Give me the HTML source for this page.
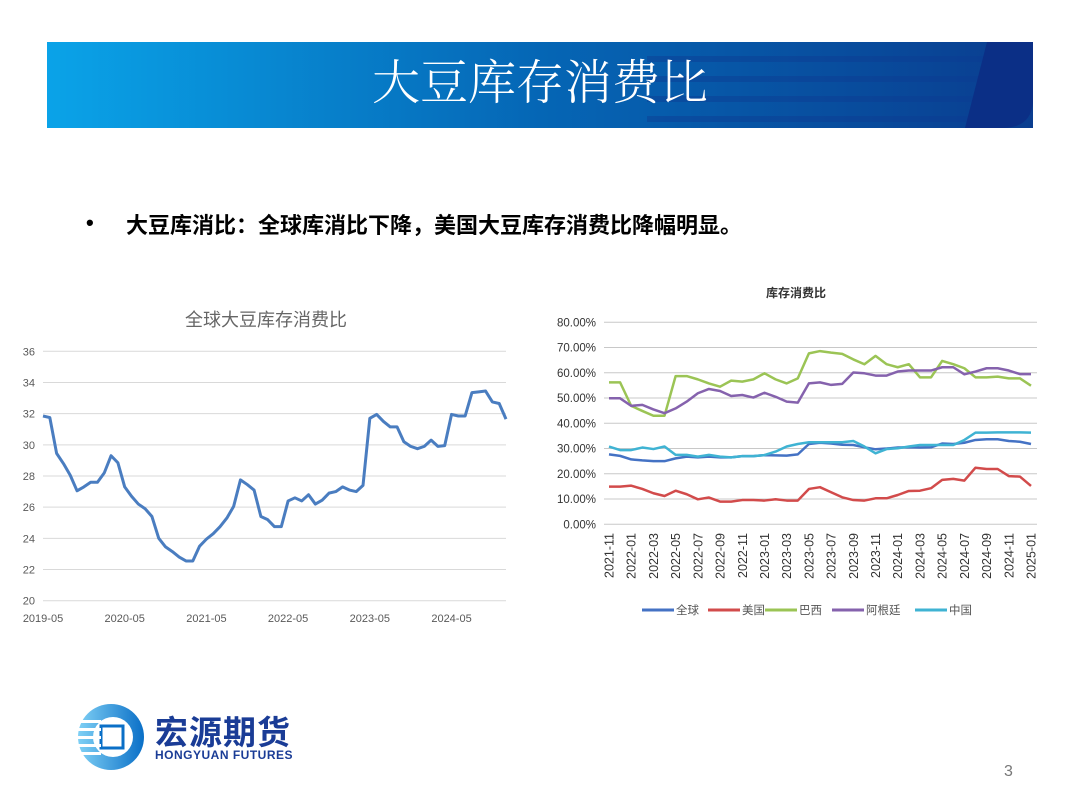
<!DOCTYPE html>
<html><head><meta charset="utf-8"><style>
body{margin:0;width:1080px;height:810px;background:#fff;position:relative;overflow:hidden;font-family:"Liberation Sans","Noto Sans CJK SC",sans-serif}
.abs{position:absolute}
</style></head><body>
<div class="abs" style="left:47px;top:42px;width:986px;height:86px;">
<svg width="986" height="86">
<defs><linearGradient id="bg" x1="0" x2="1"><stop offset="0" stop-color="#0aa3e8"/><stop offset="0.5" stop-color="#0566b5"/><stop offset="1" stop-color="#0a3d8f"/></linearGradient></defs>
<rect width="986" height="86" fill="url(#bg)"/>
<g fill="#0d3c93" opacity="0.45"><rect x="600" y="14" width="380" height="6"/><rect x="600" y="34" width="380" height="6"/><rect x="600" y="54" width="380" height="6"/><rect x="600" y="74" width="380" height="6"/></g>
<path d="M940 0 L986 0 L986 60 Q984 86 955 86 L918 86 Z" fill="#0b2f86"/>
</svg>
<div class="abs" style="left:0;top:14px;width:986px;text-align:center;color:#fff;font-size:48px;font-family:'Liberation Serif','Noto Serif CJK SC',serif;font-weight:300;line-height:56px">大豆库存消费比</div>
</div>
<div class="abs" style="left:86px;top:210px;font-size:22px;font-weight:bold">•</div>
<div class="abs" style="left:126px;top:208px;font-size:22px;font-weight:bold;color:#000">大豆库消比：全球库消比下降，美国大豆库存消费比降幅明显。</div>

<svg class="abs" style="left:0;top:290px" width="530" height="340" id="c1"></svg>
<svg class="abs" style="left:530px;top:280px" width="540" height="345" id="c2"></svg>

<div class="abs" style="left:75px;top:702px;width:250px;height:72px">
<svg width="70" height="70" class="abs" style="left:0;top:0"><defs><linearGradient id="lg" x1="0" x2="1"><stop offset="0" stop-color="#7fd0f5"/><stop offset="1" stop-color="#0a6fc7"/></linearGradient></defs>
<circle cx="36" cy="35" r="33" fill="url(#lg)"/><circle cx="38" cy="35" r="20" fill="#fff"/><rect x="26" y="24" width="22" height="22" fill="#fff" stroke="#0a6fc7" stroke-width="3"/>
<g fill="#fff"><rect x="2" y="18" width="24" height="3"/><rect x="2" y="26" width="24" height="3"/><rect x="2" y="34" width="24" height="3"/><rect x="2" y="42" width="24" height="3"/><rect x="2" y="50" width="24" height="3"/></g></svg>
<div class="abs" style="left:80px;top:4px;font-size:33px;font-weight:bold;color:#1a3c96;letter-spacing:1px">宏源期货</div>
<div class="abs" style="left:80px;top:46px;font-size:12px;font-weight:bold;color:#1a3c96;letter-spacing:0.5px">HONGYUAN FUTURES</div>
</div>
<div class="abs" style="left:1004px;top:763px;font-size:16px;color:#777">3</div>

<script>
const NS='http://www.w3.org/2000/svg';
function mk(p,t,a,txt){const e=document.createElementNS(NS,t);for(const k in a)e.setAttribute(k,a[k]);if(txt!==undefined)e.textContent=txt;p.appendChild(e);return e;}
// ---- chart 1 data
const globalValues=[31.85,31.75,29.45,28.8,28.05,27.05,27.3,27.6,27.6,28.2,29.3,28.85,27.3,26.7,26.2,25.9,25.4,24.0,23.45,23.15,22.8,22.55,22.55,23.5,23.95,24.3,24.75,25.3,26.05,27.75,27.45,27.1,25.4,25.2,24.75,24.75,26.4,26.6,26.4,26.8,26.2,26.45,26.9,27.0,27.3,27.1,27.0,27.4,31.7,31.95,31.5,31.15,31.15,30.2,29.9,29.75,29.9,30.3,29.9,29.95,31.95,31.85,31.85,33.35,33.4,33.45,32.75,32.65,31.65];
const globalYTicks=[20,22,24,26,28,30,32,34,36];
const globalXLabels=['2019-05','2020-05','2021-05','2022-05','2023-05','2024-05'];
(function(){
const s=document.getElementById('c1');
const x0=43,x1=506,yT=61.3,yB=310.7;
const X=i=>x0+(x1-x0)*i/(globalValues.length-1);
const Y=v=>yB-(v-20)/16*(yB-yT);
const t=mk(s,'text',{x:266,y:36,'text-anchor':'middle','font-size':18,fill:'#666'},'全球大豆库存消费比');


globalYTicks.forEach(v=>{
const l=mk(s,'line',{x1:x0,x2:x1,y1:Y(v),y2:Y(v),stroke:'#d9d9d9','stroke-width':1});


const tx=mk(s,'text',{x:35,y:Y(v)+4,'text-anchor':'end','font-size':11,fill:'#595959'},v);


});
globalXLabels.forEach((lb,k)=>{
const tx=mk(s,'text',{x:X(k*12),y:332,'text-anchor':'middle','font-size':11,fill:'#595959'},lb);


});
const p=mk(s,'polyline',{points:globalValues.map((v,i)=>X(i)+','+Y(v)).join(' '),fill:'none',stroke:'#4a7dc0','stroke-width':3,'stroke-linejoin':'round'});


})();
// ---- chart 2 data
const months=['2021-11','2021-12','2022-01','2022-02','2022-03','2022-04','2022-05','2022-06','2022-07','2022-08','2022-09','2022-10','2022-11','2022-12','2023-01','2023-02','2023-03','2023-04','2023-05','2023-06','2023-07','2023-08','2023-09','2023-10','2023-11','2023-12','2024-01','2024-02','2024-03','2024-04','2024-05','2024-06','2024-07','2024-08','2024-09','2024-10','2024-11','2024-12','2025-01'];
const worldSeries=[27.7,27.1,25.7,25.3,25,25,26.1,26.8,26.5,26.8,26.5,26.5,27,27,27.4,27.3,27.2,27.7,31.8,32.3,32,31.5,31.4,30.5,29.7,30,30.4,30.5,30.4,30.5,32,31.8,32.3,33.4,33.7,33.7,33,32.7,31.8];
const usSeries=[14.9,14.9,15.3,14,12.3,11.2,13.3,11.9,9.9,10.6,9,9,9.6,9.6,9.4,9.9,9.4,9.4,14,14.7,12.7,10.7,9.6,9.4,10.3,10.3,11.6,13.2,13.3,14.3,17.6,18,17.3,22.4,21.9,21.9,19.1,18.9,15.2];
const brazilSeries=[56.2,56.2,46.9,44.9,43,43,58.7,58.7,57.4,55.8,54.5,56.9,56.5,57.4,59.8,57.4,55.8,57.8,67.7,68.6,68,67.5,65.3,63.4,66.7,63.4,62.2,63.4,58.2,58.2,64.7,63.4,61.8,58.2,58.2,58.5,57.8,57.8,54.9];
const argentinaSeries=[49.9,49.9,46.9,47.3,45.5,44,45.9,48.6,51.9,53.6,52.8,50.8,51.2,50.2,52.1,50.5,48.6,48.2,55.8,56.2,55.2,55.6,60.1,59.8,58.9,58.9,60.5,60.9,60.9,60.9,62.2,62.2,59.4,60.5,61.8,61.8,60.9,59.5,59.5];
const chinaSeries=[30.8,29.4,29.4,30.4,29.8,30.8,27.5,27.5,26.8,27.5,26.8,26.5,27,27,27.4,28.8,30.8,31.8,32.5,32.5,32.5,32.5,33,30.8,28.1,29.8,30.1,30.8,31.4,31.4,31.4,31.4,33.4,36.3,36.3,36.4,36.4,36.4,36.3];
const seriesNames=['全球','美国','巴西','阿根廷','中国'];
const pctTicks=[0,10,20,30,40,50,60,70,80];
(function(){
const s=document.getElementById('c2');
const all=[worldSeries,usSeries,brazilSeries,argentinaSeries,chinaSeries];
const cols=['#4472c4','#d24b4b','#9bc455','#8562ad','#3fb3d3'];
const keys=['world','us','brazil','argentina','china'];
const xl=74,xr=507,x0=79,x1=501,yT=42.3,yB=244.3;
const X=i=>x0+(x1-x0)*i/(months.length-1);
const Y=v=>yB-v/80*(yB-yT);
const t=mk(s,'text',{x:266,y:17,'text-anchor':'middle','font-size':12,'font-weight':'bold',fill:'#333'},'库存消费比');


pctTicks.forEach(v=>{
const l=mk(s,'line',{x1:xl,x2:xr,y1:Y(v),y2:Y(v),stroke:'#c8c8c8','stroke-width':1});


const tx=mk(s,'text',{x:66,y:Y(v)+4,'text-anchor':'end','font-size':11.5,fill:'#333'},v.toFixed(2)+'%');


});
months.forEach((m,i)=>{ if(i%2) return;
const tx=mk(s,'text',{x:0,y:0,transform:`translate(${X(i)+4.5},253) rotate(-90)`,'text-anchor':'end','font-size':12.5,fill:'#333'},m);


});
all.forEach((d,k)=>{
const p=mk(s,'polyline',{points:d.map((v,i)=>X(i)+','+Y(v)).join(' '),fill:'none',stroke:cols[k],'stroke-width':2.5,'stroke-linejoin':'round'});


});
const lx=[112,178,235,302,385];
seriesNames.forEach((n,k)=>{
const g=mk(s,'g',{});


mk(g,'line',{x1:lx[k],x2:lx[k]+32,y1:330,y2:330,stroke:cols[k],'stroke-width':3});
mk(g,'text',{x:lx[k]+34,y:334,'font-size':11.5,fill:'#555'},n);
});
})();
</script>
</body></html>
